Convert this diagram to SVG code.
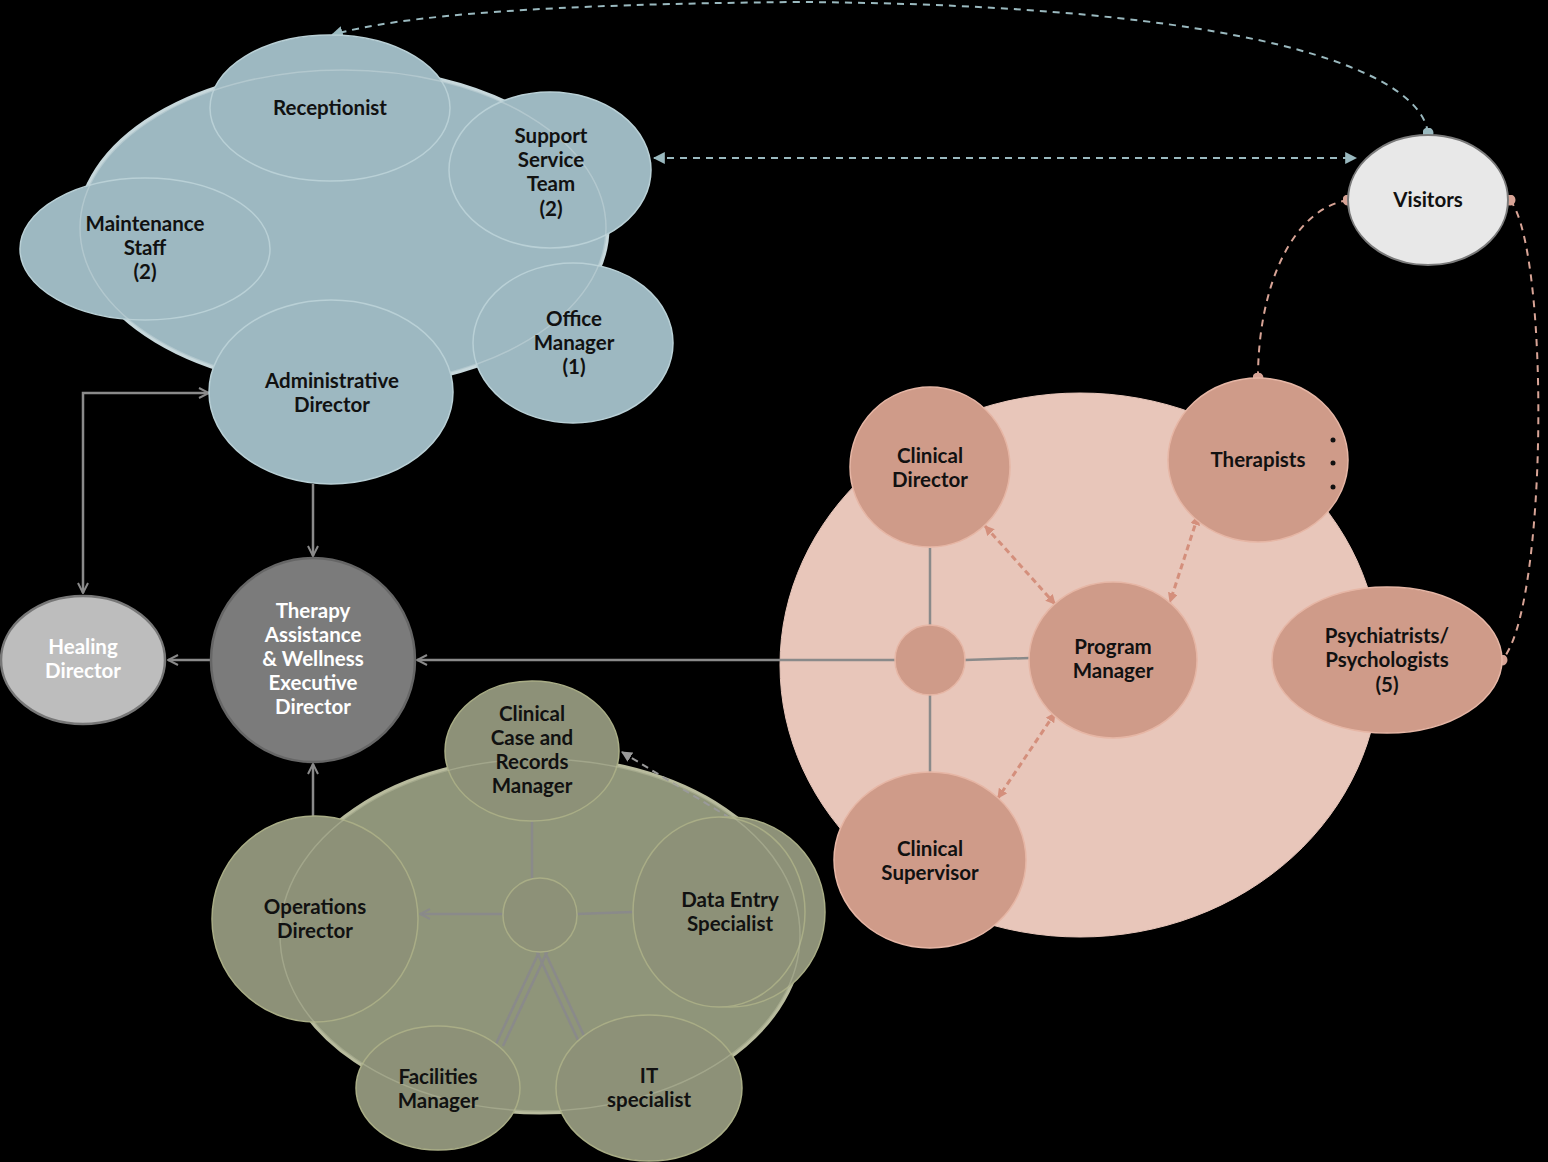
<svg xmlns="http://www.w3.org/2000/svg" width="1548" height="1162" viewBox="0 0 1548 1162">
<style>
text{font-family:Lato,"Open Sans","Liberation Sans",sans-serif;font-weight:700;font-size:20.5px;text-anchor:middle;fill:#111}
.w{fill:#fff}
.blue{fill:#9db8c1;stroke:#b9d0d6;stroke-width:1.5}
.blueBg{fill:#9db8c1;stroke:#c7d8dc;stroke-width:3}
.pink{fill:#cf9b89;stroke:#e6b6a5;stroke-width:1.5}
.pinkBg{fill:#e8c6ba;stroke:#e8c6ba;stroke-width:1}
.olive{fill:#8d9178;stroke:#a9ad86;stroke-width:1.5}
.oliveBg{fill:#8f957a;stroke:#b8bb9d;stroke-width:3}
.ghost{fill:none;stroke-width:1.5;opacity:.5}
.gl{fill:none;stroke:#8a8a8a;stroke-width:2.5}
.bd{fill:none;stroke:#9ab9bf;stroke-width:2;stroke-dasharray:7 6}
.pd{fill:none;stroke:#d8a496;stroke-width:2;stroke-dasharray:7 6}
.pd2{fill:none;stroke:#d48f7c;stroke-width:3;stroke-dasharray:6 4}
</style>
<defs>
<marker id="ga" viewBox="0 0 12 12" refX="11" refY="6" markerWidth="12" markerHeight="12" markerUnits="userSpaceOnUse" orient="auto-start-reverse"><path d="M1 1 L11 6 L1 11" fill="none" stroke="#8a8a8a" stroke-width="2"/></marker>
<marker id="ba" viewBox="0 0 10 10" refX="9" refY="5" markerWidth="12" markerHeight="12" markerUnits="userSpaceOnUse" orient="auto-start-reverse"><path d="M0 0 L10 5 L0 10 Z" fill="#9ab9bf"/></marker>
<marker id="pa" viewBox="0 0 10 10" refX="9" refY="5" markerWidth="10" markerHeight="10" markerUnits="userSpaceOnUse" orient="auto-start-reverse"><path d="M0 0 L10 5 L0 10 Z" fill="#d48f7c"/></marker>
<marker id="oa" viewBox="0 0 10 10" refX="9" refY="5" markerWidth="11" markerHeight="11" markerUnits="userSpaceOnUse" orient="auto-start-reverse"><path d="M0 0 L10 5 L0 10 Z" fill="#9a9a9a"/></marker>
<marker id="bdot" viewBox="0 0 10 10" refX="5" refY="5" markerWidth="11" markerHeight="11" markerUnits="userSpaceOnUse"><circle cx="5" cy="5" r="5" fill="#9ab9bf"/></marker>
<marker id="pdot" viewBox="0 0 10 10" refX="5" refY="5" markerWidth="11" markerHeight="11" markerUnits="userSpaceOnUse"><circle cx="5" cy="5" r="5" fill="#d8a496"/></marker>
</defs>
<rect width="1548" height="1162" fill="#000"/>

<g id="blue-cluster-bg"><ellipse class="blueBg" cx="343" cy="228" rx="265" ry="160"/></g>
<g id="pink-cluster-bg"><ellipse class="pinkBg" cx="1080" cy="665" rx="300" ry="272"/></g>
<g id="olive-cluster-bg"><ellipse class="oliveBg" cx="540" cy="935" rx="262" ry="178"/></g>

<g id="connectors">
<path class="bd" d="M1428 133 C1420 70 1250 5 800 2 C550 4 400 15 332 35" marker-start="url(#bdot)" marker-end="url(#ba)"/>
<line class="bd" x1="654" y1="158" x2="1356" y2="158" marker-start="url(#ba)" marker-end="url(#ba)"/>
<path class="pd" d="M1348 200 C1290 210 1258 290 1258 378" marker-start="url(#pdot)" marker-end="url(#pdot)"/>
<path class="pd" d="M1510 200 C1550 250 1548 610 1502 660" marker-start="url(#pdot)" marker-end="url(#pdot)"/>
<line class="gl" x1="313" y1="484" x2="313" y2="556" marker-end="url(#ga)"/>
<polyline class="gl" points="83,593 83,393 209,393" marker-start="url(#ga)" marker-end="url(#ga)"/>
<line class="gl" x1="211" y1="660" x2="168" y2="660" marker-end="url(#ga)"/>
<line class="gl" x1="313" y1="817" x2="313" y2="764" marker-end="url(#ga)"/>
<line class="gl" x1="895" y1="660" x2="417" y2="660" marker-end="url(#ga)"/>
<line class="gl" x1="930" y1="548" x2="930" y2="625"/>
<line class="gl" x1="930" y1="695" x2="930" y2="772"/>
<line class="gl" x1="965" y1="660" x2="1030" y2="658"/>
<line class="pd2" x1="985" y1="526" x2="1055" y2="604" marker-start="url(#pa)" marker-end="url(#pa)"/>
<line class="pd2" x1="1198" y1="516" x2="1170" y2="602" marker-start="url(#pa)" marker-end="url(#pa)"/>
<line class="pd2" x1="1055" y1="713" x2="998" y2="798" marker-start="url(#pa)" marker-end="url(#pa)"/>
<line class="gl" x1="532" y1="820" x2="532" y2="880"/>
<line class="gl" x1="504" y1="914" x2="420" y2="914" marker-end="url(#ga)"/>
<line class="gl" x1="576" y1="914" x2="633" y2="912"/>
<line class="gl" x1="540" y1="950" x2="495" y2="1046"/>
<line class="gl" x1="548" y1="950" x2="503" y2="1046"/>
<line class="gl" x1="536" y1="950" x2="578" y2="1040"/>
<line class="gl" x1="544" y1="950" x2="586" y2="1040"/>
<path d="M730 818 L622 752" fill="none" stroke="#9a9a9a" stroke-width="2" stroke-dasharray="7 5" marker-end="url(#oa)"/>
</g>

<g id="receptionist"><ellipse class="blue" cx="330" cy="108" rx="120" ry="73"/></g>
<g id="support-service-team"><ellipse class="blue" cx="550" cy="170" rx="101" ry="78"/></g>
<g id="maintenance-staff"><ellipse class="blue" cx="145" cy="249" rx="125" ry="71"/></g>
<g id="office-manager"><ellipse class="blue" cx="573" cy="343" rx="100" ry="80"/></g>
<ellipse class="ghost" cx="343" cy="228" rx="263" ry="158" stroke="#c7d8dc"/>
<g id="administrative-director"><ellipse class="blue" cx="331" cy="392" rx="122" ry="92"/><text x="332" y="388">Administrative</text><text x="332" y="412">Director</text></g>
<g id="blue-labels">
<text x="330" y="115">Receptionist</text>
<text x="551" y="143">Support</text><text x="551" y="167">Service</text><text x="551" y="191">Team</text><text x="551" y="216">(2)</text>
<text x="145" y="231">Maintenance</text><text x="145" y="255">Staff</text><text x="145" y="279">(2)</text>
<text x="574" y="326">Office</text><text x="574" y="350">Manager</text><text x="574" y="374">(1)</text>
</g>

<g id="visitors"><ellipse cx="1428" cy="200" rx="80" ry="65" fill="#e8e8e8" stroke="#7a7a7a" stroke-width="2"/><text x="1428" y="207">Visitors</text></g>

<g id="healing-director"><ellipse cx="83" cy="660" rx="82" ry="64" fill="#bdbdbd" stroke="#777" stroke-width="2.5"/><text class="w" x="83" y="654">Healing</text><text class="w" x="83" y="678">Director</text></g>
<g id="therapy-assistance-executive-director"><ellipse cx="313" cy="660" rx="102" ry="102" fill="#7b7b7b" stroke="#666" stroke-width="2.5"/><text class="w" x="313" y="618">Therapy</text><text class="w" x="313" y="642">Assistance</text><text class="w" x="313" y="666">&amp; Wellness</text><text class="w" x="313" y="690">Executive</text><text class="w" x="313" y="714">Director</text></g>

<g id="clinical-hub"><circle class="pink" cx="930" cy="660" r="35"/></g>
<g id="clinical-director"><ellipse class="pink" cx="930" cy="467" rx="80" ry="80"/><text x="930" y="463">Clinical</text><text x="930" y="487">Director</text></g>
<g id="therapists"><ellipse class="pink" cx="1258" cy="460" rx="90" ry="82"/><text x="1258" y="467">Therapists</text><circle cx="1333" cy="440" r="2.5" fill="#111"/><circle cx="1333" cy="463" r="2.5" fill="#111"/><circle cx="1333" cy="487" r="2.5" fill="#111"/></g>
<g id="program-manager"><ellipse class="pink" cx="1113" cy="660" rx="84" ry="78"/><text x="1113" y="654">Program</text><text x="1113" y="678">Manager</text></g>
<g id="psychiatrists-psychologists"><ellipse class="pink" cx="1387" cy="660" rx="115" ry="73"/><text x="1387" y="643">Psychiatrists/</text><text x="1387" y="667">Psychologists</text><text x="1387" y="692">(5)</text></g>
<g id="clinical-supervisor"><ellipse class="pink" cx="930" cy="860" rx="96" ry="88"/><text x="930" y="856">Clinical</text><text x="930" y="880">Supervisor</text></g>

<g id="olive-hub"><circle class="olive" cx="540" cy="915" r="37"/></g>
<g id="clinical-case-records-manager"><ellipse class="olive" cx="532" cy="751" rx="87" ry="70"/></g>
<g id="operations-director"><ellipse class="olive" cx="315" cy="919" rx="103" ry="103"/></g>
<g id="data-entry-specialist"><ellipse class="olive" cx="730" cy="912" rx="95" ry="95"/><ellipse class="olive" cx="719" cy="912" rx="86" ry="95"/></g>
<g id="facilities-manager"><ellipse class="olive" cx="438" cy="1088" rx="82" ry="62"/></g>
<g id="it-specialist"><ellipse class="olive" cx="649" cy="1088" rx="93" ry="73"/></g>
<ellipse class="ghost" cx="540" cy="935" rx="260" ry="176" stroke="#b8bb9d"/>
<g id="olive-labels">
<text x="532" y="721">Clinical</text><text x="532" y="745">Case and</text><text x="532" y="769">Records</text><text x="532" y="793">Manager</text>
<text x="315" y="914">Operations</text><text x="315" y="938">Director</text>
<text x="730" y="907">Data Entry</text><text x="730" y="931">Specialist</text>
<text x="438" y="1084">Facilities</text><text x="438" y="1108">Manager</text>
<text x="649" y="1083">IT</text><text x="649" y="1107">specialist</text>
</g>
</svg>
